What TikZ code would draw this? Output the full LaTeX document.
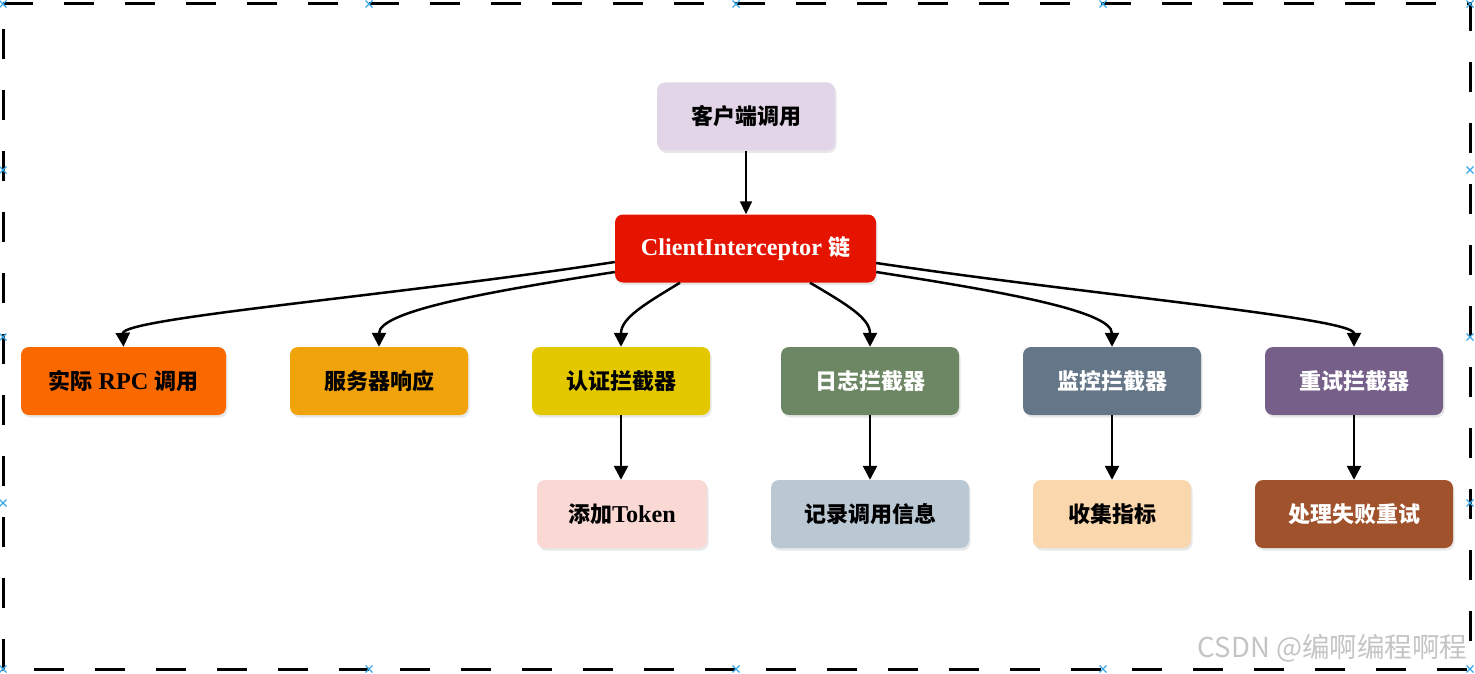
\documentclass[tikz,border=0pt]{standalone}
\usepackage{fontspec}
\setmainfont{Liberation Serif}[Scale=1.1]
\newfontfamily\cjk{Noto Sans CJK SC}
\usetikzlibrary{arrows.meta,shadows}
\newcommand{\zh}[1]{{\cjk #1}}
\definecolor{cClient}{HTML}{E1D5E7}
\definecolor{cCI}{HTML}{E51400}
\definecolor{cRPC}{HTML}{FA6800}
\definecolor{cSrv}{HTML}{F0A30A}
\definecolor{cAuth}{HTML}{E3C800}
\definecolor{cLog}{HTML}{6D8764}
\definecolor{cMon}{HTML}{647687}
\definecolor{cRetry}{HTML}{76608A}
\definecolor{cToken}{HTML}{FAD9D5}
\definecolor{cRec}{HTML}{BAC8D3}
\definecolor{cCol}{HTML}{FAD7AC}
\definecolor{cFail}{HTML}{A0522D}
\definecolor{handle}{HTML}{3BA7E6}
\definecolor{wm}{HTML}{C4C4C4}
\begin{document}
\begin{tikzpicture}[x=1pt,y=-1pt,
  box/.style={rounded corners=8pt, minimum width=178pt, minimum height=68pt, inner sep=0pt,
    font=\fontsize{22}{26}\selectfont\bfseries, text=black,
    drop shadow={shadow xshift=1.5pt, shadow yshift=-2.5pt, opacity=0.18}},
  wbox/.style={box, text=white},
  arr/.style={line width=2.5pt, -{Triangle[width=14pt,length=14pt]}},
  thinarr/.style={line width=1.7pt, -{Triangle[width=12pt,length=13pt]}},
  hmark/.style={draw=handle, line width=1.2pt},
]
\useasboundingbox (0,0) rectangle (1475,674);
% dashed frame
\draw[line width=3pt, dash pattern=on 30pt off 31pt] (3,4) -- (1470,4) -- (1470,669) -- (3,669) -- cycle;
% handles
\foreach \x in {3,369,736,1103,1470}{
  \foreach \y in {4,669}{
    \draw[hmark] (\x-3.5,\y-3.5) -- (\x+3.5,\y+3.5) (\x-3.5,\y+3.5) -- (\x+3.5,\y-3.5);
  }
}
\foreach \y in {170,337,503}{
  \foreach \x in {3,1470}{
    \draw[hmark] (\x-3.5,\y-3.5) -- (\x+3.5,\y+3.5) (\x-3.5,\y+3.5) -- (\x+3.5,\y-3.5);
  }
}
% nodes
\node[box, fill=cClient] (client) at (746,116.5) {\zh{客户端调用}};
\node[wbox, fill=cCI, minimum width=261pt] (ci) at (745.5,248.5) {ClientInterceptor \zh{链}};
\node[box, fill=cRPC, minimum width=205pt] (rpc) at (123.5,381) {\zh{实际} RPC \zh{调用}};
\node[box, fill=cSrv] (srv) at (379,381) {\zh{服务器响应}};
\node[box, fill=cAuth] (auth) at (621,381) {\zh{认证拦截器}};
\node[wbox, fill=cLog] (log) at (870,381) {\zh{日志拦截器}};
\node[wbox, fill=cMon] (mon) at (1112,381) {\zh{监控拦截器}};
\node[wbox, fill=cRetry] (retry) at (1354,381) {\zh{重试拦截器}};
\node[box, fill=cToken, minimum width=170pt] (token) at (622,514) {\zh{添加}Token};
\node[box, fill=cRec, minimum width=198pt] (rec) at (870,514) {\zh{记录调用信息}};
\node[box, fill=cCol, minimum width=158pt] (col) at (1112,514) {\zh{收集指标}};
\node[wbox, fill=cFail, minimum width=198pt] (fail) at (1354,514) {\zh{处理失败重试}};
% edges
\draw[thinarr] (client.south) -- (client.south |- ci.north);
\draw[arr] ([yshift=-13.5pt]ci.west) .. controls (400,295) and (122,318) .. (rpc.north);
\draw[arr] ([yshift=-23.5pt]ci.west) .. controls (500,290) and (379,310) .. (srv.north);
\draw[arr] ([xshift=-65.5pt]ci.south) .. controls (645,304) and (621,318) .. (auth.north);
\draw[arr] ([xshift=64.5pt]ci.south) .. controls (846,304) and (870,318) .. (log.north);
\draw[arr] ([yshift=-23.5pt]ci.east) .. controls (991,290) and (1112,310) .. (mon.north);
\draw[arr] ([yshift=-14.5pt]ci.east) .. controls (1091,295) and (1354,318) .. (retry.north);
\draw[arr] (auth.south) -- (auth.south |- token.north);
\draw[arr] (log.south) -- (log.south |- rec.north);
\draw[arr] (mon.south) -- (mon.south |- col.north);
\draw[arr] (retry.south) -- (retry.south |- fail.north);
% watermark
\node[anchor=base east, text=wm, font=\fontsize{27.5}{30}\selectfont] (wmark) at (1471,657) {\zh{CSDN @编啊编程啊程}};
\end{tikzpicture}
\end{document}
